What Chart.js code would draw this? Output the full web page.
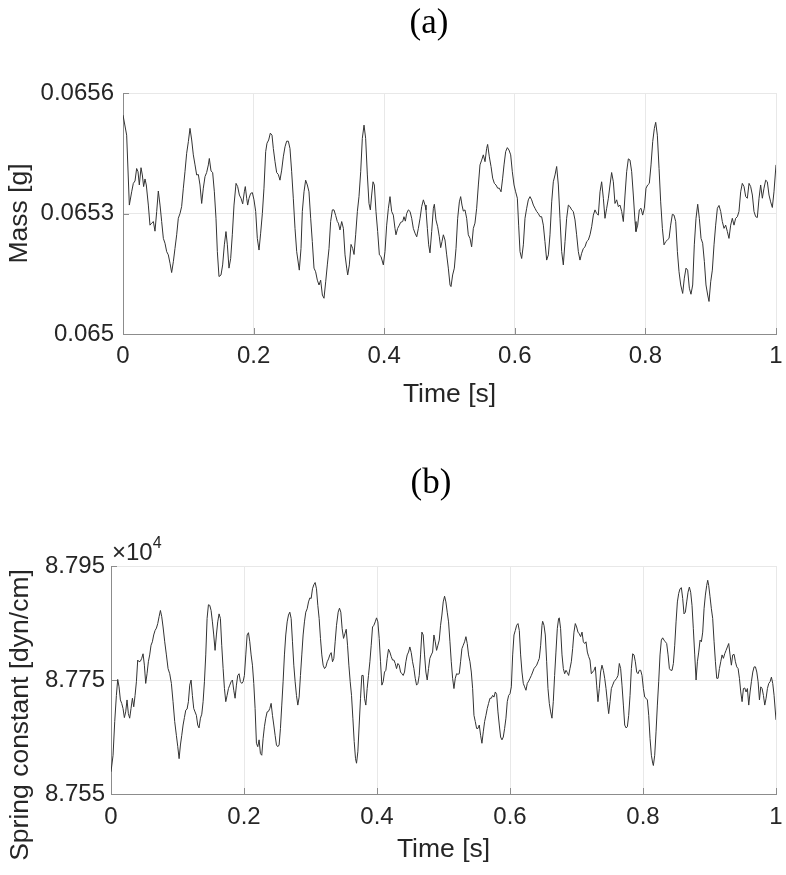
<!DOCTYPE html>
<html>
<head>
<meta charset="utf-8">
<script src="https://cdn.jsdelivr.net/npm/chart.js@4.4.0/dist/chart.umd.min.js"></script>
<style>
  body { margin: 0; background: #fff; }
  #wrap { position: relative; width: 786px; height: 875px; }
  canvas { position: absolute; left: 0; }
</style>
</head>
<body>
<div id="wrap">
  <canvas id="chartA" width="786" height="437" style="top:0"></canvas>
  <canvas id="chartB" width="786" height="438" style="top:437px"></canvas>
</div>
<script>
// (a) mass vs time
const timeA = [
  0, 0.0056, 0.0097, 0.0133, 0.0158, 0.0184, 0.0209, 0.0230, 0.0250, 0.0276,
  0.0296, 0.0316, 0.0337, 0.0357, 0.0388, 0.0413, 0.0439, 0.0465, 0.0490, 0.0516,
  0.0541, 0.0567, 0.0592, 0.0618, 0.0643, 0.0669, 0.0694, 0.0720, 0.0745, 0.0771,
  0.0796, 0.0822, 0.0847, 0.0873, 0.0898, 0.0924, 0.0949, 0.0975, 0.1001, 0.1026,
  0.1052, 0.1077, 0.1103, 0.1128, 0.1154, 0.1179, 0.1205, 0.1230, 0.1256, 0.1281,
  0.1307, 0.1322, 0.1348, 0.1373, 0.1399, 0.1424, 0.1445, 0.1470, 0.1501, 0.1526,
  0.1552, 0.1577, 0.1598, 0.1623, 0.1649, 0.1674, 0.1700, 0.1731, 0.1756, 0.1782,
  0.1807, 0.1833, 0.1858, 0.1873, 0.1894, 0.1909, 0.1930, 0.1955, 0.1981, 0.2006,
  0.2032, 0.2057, 0.2083, 0.2108, 0.2134, 0.2159, 0.2185, 0.2205, 0.2231, 0.2256,
  0.2282, 0.2302, 0.2328, 0.2353, 0.2379, 0.2404, 0.2430, 0.2455, 0.2481, 0.2506,
  0.2532, 0.2557, 0.2583, 0.2608, 0.2634, 0.2660, 0.2700, 0.2726, 0.2746, 0.2772,
  0.2797, 0.2823, 0.2848, 0.2874, 0.2899, 0.2925, 0.2950, 0.2976, 0.3002, 0.3027,
  0.3053, 0.3078, 0.3104, 0.3129, 0.3155, 0.3180, 0.3206, 0.3231, 0.3257, 0.3282,
  0.3298, 0.3323, 0.3349, 0.3375, 0.3400, 0.3426, 0.3441, 0.3466, 0.3492, 0.3517,
  0.3538, 0.3563, 0.3589, 0.3614, 0.3640, 0.3665, 0.3691, 0.3716, 0.3742, 0.3767,
  0.3788, 0.3808, 0.3829, 0.3849, 0.3874, 0.3900, 0.3926, 0.3951, 0.3987, 0.4012,
  0.4038, 0.4064, 0.4089, 0.4114, 0.4140, 0.4165, 0.4180, 0.4206, 0.4232, 0.4252,
  0.4283, 0.4303, 0.4324, 0.4344, 0.4370, 0.4396, 0.4421, 0.4446, 0.4472, 0.4498,
  0.4523, 0.4549, 0.4574, 0.4600, 0.4625, 0.4640, 0.4661, 0.4681, 0.4701, 0.4727,
  0.4753, 0.4768, 0.4793, 0.4819, 0.4844, 0.4865, 0.4885, 0.4906, 0.4931, 0.4957,
  0.4982, 0.5008, 0.5023, 0.5048, 0.5074, 0.5100, 0.5125, 0.5151, 0.5171, 0.5191,
  0.5212, 0.5237, 0.5263, 0.5288, 0.5314, 0.5339, 0.5365, 0.5390, 0.5416, 0.5442,
  0.5467, 0.5493, 0.5518, 0.5544, 0.5569, 0.5584, 0.5610, 0.5636, 0.5661, 0.5687,
  0.5712, 0.5738, 0.5763, 0.5789, 0.5814, 0.5835, 0.5860, 0.5886, 0.5911, 0.5937,
  0.5962, 0.5988, 0.6013, 0.6039, 0.6059, 0.6080, 0.6105, 0.6131, 0.6156, 0.6182,
  0.6207, 0.6233, 0.6258, 0.6284, 0.6309, 0.6335, 0.6360, 0.6386, 0.6411, 0.6437,
  0.6462, 0.6488, 0.6514, 0.6539, 0.6565, 0.6590, 0.6616, 0.6641,
  0.6667, 0.6692, 0.6718, 0.6743, 0.6769, 0.6794, 0.6820, 0.6845, 0.6871, 0.6896,
  0.6922, 0.6947, 0.6973, 0.6998, 0.7024, 0.7050, 0.7075, 0.7101, 0.7126, 0.7152,
  0.7177, 0.7203, 0.7228, 0.7254, 0.7279, 0.7305, 0.7330, 0.7356, 0.7381, 0.7407,
  0.7433, 0.7458, 0.7483, 0.7509, 0.7534, 0.7560, 0.7586, 0.7611, 0.7637, 0.7662,
  0.7688, 0.7713, 0.7739, 0.7764, 0.7790, 0.7815, 0.7841, 0.7856, 0.7882, 0.7907,
  0.7933, 0.7958, 0.7984, 0.8009, 0.8035, 0.8060, 0.8086, 0.8112, 0.8137, 0.8158,
  0.8183, 0.8209, 0.8234, 0.8260, 0.8285, 0.8311, 0.8336, 0.8362, 0.8387, 0.8413,
  0.8438, 0.8464, 0.8490, 0.8515, 0.8541, 0.8571, 0.8596, 0.8622, 0.8647, 0.8673,
  0.8698, 0.8724, 0.8749, 0.8775, 0.8801, 0.8826, 0.8852, 0.8877, 0.8903, 0.8928,
  0.8954, 0.8974, 0.9000, 0.9025, 0.9051, 0.9076, 0.9102, 0.9127, 0.9153, 0.9178,
  0.9204, 0.9229, 0.9255, 0.9280, 0.9306, 0.9331, 0.9357, 0.9382, 0.9408, 0.9433,
  0.9459, 0.9484, 0.9510, 0.9536, 0.9561, 0.9587, 0.9612, 0.9638, 0.9663, 0.9689,
  0.9714, 0.9740, 0.9765, 0.9791, 0.9816, 0.9842, 0.9867, 0.9893, 0.9918, 0.9944,
  0.9969, 1.0
];
const massA = [
  0.065545, 0.065495, 0.065321, 0.065354, 0.065375, 0.065381, 0.065412, 0.065404, 0.065371, 0.065414,
  0.065396, 0.065367, 0.065386, 0.065371, 0.065321, 0.065271, 0.065276, 0.065280, 0.065256, 0.065305,
  0.065356, 0.065321, 0.065280, 0.065238, 0.065226, 0.065205, 0.065197, 0.065176, 0.065153, 0.065180,
  0.065213, 0.065247, 0.065288, 0.065300, 0.065317, 0.065363, 0.065404, 0.065450, 0.065479, 0.065512,
  0.065483, 0.065446, 0.065421, 0.065396, 0.065397, 0.065371, 0.065325, 0.065363, 0.065392, 0.065402,
  0.065421, 0.065437, 0.065406, 0.065402, 0.065354, 0.065288, 0.065205, 0.065143, 0.065147, 0.065172,
  0.065222, 0.065255, 0.065222, 0.065164, 0.065188, 0.065247, 0.065321, 0.065375, 0.065367, 0.065346,
  0.065338, 0.065324, 0.065354, 0.065367, 0.065338, 0.065321, 0.065338, 0.065350, 0.065352, 0.065334,
  0.065305, 0.065238, 0.065209, 0.065251, 0.065300, 0.065363, 0.065454, 0.065475, 0.065483, 0.065500,
  0.065495, 0.065462, 0.065429, 0.065402, 0.065397, 0.065383, 0.065408, 0.065441, 0.065466, 0.065480,
  0.065480, 0.065462, 0.065404, 0.065338, 0.065263, 0.065205, 0.065159, 0.065213, 0.065305, 0.065354,
  0.065383, 0.065371, 0.065354, 0.065288, 0.065230, 0.065164, 0.065155, 0.065134, 0.065122, 0.065134,
  0.065097, 0.065089, 0.065130, 0.065172, 0.065213, 0.065280, 0.065309, 0.065309, 0.065295, 0.065280,
  0.065276, 0.065259, 0.065280, 0.065263, 0.065197, 0.065164, 0.065147, 0.065172, 0.065223, 0.065213,
  0.065198, 0.065247, 0.065305, 0.065342, 0.065404, 0.065487, 0.065520, 0.065487, 0.065396, 0.065325,
  0.065309, 0.065346, 0.065379, 0.065371, 0.065305, 0.065255, 0.065197, 0.065193, 0.065172, 0.065205,
  0.065271, 0.065313, 0.065342, 0.065305, 0.065296, 0.065263, 0.065247, 0.065263, 0.065271, 0.065278,
  0.065280, 0.065292, 0.065281, 0.065300, 0.065309, 0.065305, 0.065288, 0.065263, 0.065251, 0.065242,
  0.065263, 0.065288, 0.065317, 0.065334, 0.065321, 0.065309, 0.065263, 0.065222, 0.065202, 0.065255,
  0.065313, 0.065323, 0.065284, 0.065267, 0.065242, 0.065215, 0.065230, 0.065247, 0.065234, 0.065197,
  0.065164, 0.065122, 0.065118, 0.065147, 0.065164, 0.065213, 0.065288, 0.065329, 0.065342, 0.065321,
  0.065306, 0.065309, 0.065288, 0.065247, 0.065238, 0.065217, 0.065263, 0.065276, 0.065313, 0.065371,
  0.065421, 0.065433, 0.065446, 0.065429, 0.065462, 0.065472, 0.065441, 0.065417, 0.065388, 0.065375,
  0.065371, 0.065363, 0.065363, 0.065354, 0.065388, 0.065421, 0.065454, 0.065464, 0.065458, 0.065446,
  0.065404, 0.065371, 0.065354, 0.065338, 0.065271, 0.065205, 0.065188, 0.065222, 0.065288, 0.065313,
  0.065334, 0.065342, 0.065334, 0.065321, 0.065313, 0.065305, 0.065300, 0.065292, 0.065292, 0.065271,
  0.065230, 0.065184, 0.065197, 0.065247, 0.065329, 0.065379, 0.065396, 0.065417,
  0.065371, 0.065288, 0.065205, 0.065172, 0.065230, 0.065288, 0.065321, 0.065317, 0.065309, 0.065305,
  0.065284, 0.065247, 0.065205, 0.065184, 0.065201, 0.065213, 0.065217, 0.065230, 0.065234, 0.065247,
  0.065267, 0.065296, 0.065309, 0.065300, 0.065296, 0.065354, 0.065379, 0.065338, 0.065288, 0.065313,
  0.065338, 0.065371, 0.065402, 0.065379, 0.065325, 0.065334, 0.065317, 0.065321, 0.065305, 0.065280,
  0.065346, 0.065404, 0.065436, 0.065433, 0.065404, 0.065346, 0.065280, 0.065255, 0.065271, 0.065309,
  0.065313, 0.065296, 0.065313, 0.065363, 0.065371, 0.065375, 0.065421, 0.065479, 0.065512, 0.065527,
  0.065495, 0.065412, 0.065329, 0.065263, 0.065222, 0.065230, 0.065234, 0.065238, 0.065271, 0.065298,
  0.065296, 0.065280, 0.065205, 0.065155, 0.065122, 0.065101, 0.065139, 0.065164, 0.065159, 0.065114,
  0.065099, 0.065122, 0.065222, 0.065288, 0.065323, 0.065288, 0.065238, 0.065226, 0.065180, 0.065122,
  0.065097, 0.065081, 0.065130, 0.065159, 0.065222, 0.065271, 0.065313, 0.065320, 0.065305, 0.065280,
  0.065263, 0.065271, 0.065255, 0.065238, 0.065271, 0.065288, 0.065271, 0.065288, 0.065292, 0.065305,
  0.065354, 0.065375, 0.065367, 0.065342, 0.065338, 0.065375, 0.065367, 0.065346, 0.065305, 0.065292,
  0.065290, 0.065338, 0.065371, 0.065338, 0.065363, 0.065383, 0.065379, 0.065346, 0.065329, 0.065315,
  0.065354, 0.065421
];

// (b) spring constant vs time, dyn/cm
const timeB = [
  0, 0.0031, 0.0056, 0.0081, 0.0101, 0.0121, 0.0141, 0.0161, 0.0181, 0.0201,
  0.0221, 0.0241, 0.0261, 0.0281, 0.0301, 0.0322, 0.0342, 0.0362, 0.0382, 0.0402,
  0.0422, 0.0442, 0.0462, 0.0482, 0.0502, 0.0522, 0.0542, 0.0562, 0.0582, 0.0602,
  0.0622, 0.0642, 0.0663, 0.0683, 0.0703, 0.0723, 0.0743, 0.0763, 0.0783, 0.0808,
  0.0833, 0.0858, 0.0883, 0.0908, 0.0933, 0.0958, 0.0983, 0.1004, 0.1024, 0.1044,
  0.1064, 0.1084, 0.1104, 0.1124, 0.1144, 0.1164, 0.1184, 0.1204, 0.1224, 0.1244,
  0.1264, 0.1284, 0.1304, 0.1324, 0.1345, 0.1365, 0.1385, 0.1405, 0.1425, 0.1445,
  0.1465, 0.1485, 0.1505, 0.1525, 0.1545, 0.1565, 0.1585, 0.1605, 0.1625, 0.1645,
  0.1665, 0.1686, 0.1706, 0.1726, 0.1746, 0.1766, 0.1786, 0.1806, 0.1826, 0.1846,
  0.1866, 0.1886, 0.1906, 0.1926, 0.1946, 0.1966, 0.1986, 0.2006, 0.2027, 0.2047,
  0.2067, 0.2087, 0.2107, 0.2127, 0.2147, 0.2167, 0.2187, 0.2207, 0.2227, 0.2247,
  0.2267, 0.2287, 0.2307, 0.2327, 0.2348, 0.2368, 0.2388, 0.2408, 0.2428, 0.2448,
  0.2468, 0.2488, 0.2508, 0.2528, 0.2548, 0.2568, 0.2588, 0.2608, 0.2628, 0.2649,
  0.2669, 0.2689, 0.2709, 0.2729, 0.2749, 0.2769, 0.2789, 0.2809, 0.2829, 0.2849,
  0.2869, 0.2889, 0.2909, 0.2929, 0.2950, 0.2970, 0.2990, 0.3010, 0.3030, 0.3050,
  0.3070, 0.3090, 0.3110, 0.3130, 0.3150, 0.3170, 0.3190, 0.3211, 0.3231, 0.3251,
  0.3271,
  0.3291, 0.3311, 0.3331, 0.3351, 0.3371, 0.3391, 0.3416, 0.3436, 0.3456, 0.3476,
  0.3497, 0.3517, 0.3537, 0.3557, 0.3577, 0.3597, 0.3617, 0.3637, 0.3657, 0.3677,
  0.3692, 0.3712, 0.3732, 0.3752, 0.3772, 0.3792, 0.3812, 0.3832, 0.3852, 0.3872,
  0.3893, 0.3913, 0.3933, 0.3953, 0.3973, 0.3993, 0.4013, 0.4033, 0.4053, 0.4073,
  0.4093, 0.4113, 0.4133, 0.4153, 0.4173, 0.4193, 0.4214, 0.4234, 0.4254, 0.4274,
  0.4294, 0.4314, 0.4334, 0.4354, 0.4374, 0.4394, 0.4414, 0.4434, 0.4454, 0.4474,
  0.4494, 0.4515, 0.4535, 0.4555, 0.4575, 0.4595, 0.4615, 0.4635, 0.4655, 0.4675,
  0.4695, 0.4715, 0.4735, 0.4755, 0.4775, 0.4795, 0.4816, 0.4836, 0.4856, 0.4876,
  0.4896, 0.4916, 0.4936, 0.4956, 0.4976, 0.4996, 0.5016, 0.5036, 0.5056, 0.5076,
  0.5097, 0.5117, 0.5137, 0.5157, 0.5177, 0.5197, 0.5217, 0.5237, 0.5257, 0.5277,
  0.5297, 0.5317, 0.5337, 0.5357, 0.5377, 0.5398, 0.5418, 0.5438, 0.5458, 0.5478,
  0.5498, 0.5518, 0.5538, 0.5558, 0.5578, 0.5598, 0.5618, 0.5638, 0.5658, 0.5678,
  0.5699, 0.5719, 0.5739, 0.5759, 0.5779, 0.5799, 0.5819, 0.5839, 0.5859, 0.5879,
  0.5899, 0.5919, 0.5939, 0.5959, 0.5980, 0.6000, 0.6020, 0.6040, 0.6060, 0.6080,
  0.6100, 0.6120, 0.6140, 0.6160, 0.6180, 0.6200, 0.6220, 0.6240, 0.6260, 0.6281,
  0.6301, 0.6321, 0.6341, 0.6361, 0.6381, 0.6401, 0.6421, 0.6441, 0.6461, 0.6481,
  0.6491, 0.6511, 0.6531, 0.6551, 0.6571, 0.6591,
  0.6611, 0.6631, 0.6651, 0.6671, 0.6691, 0.6711, 0.6731, 0.6741, 0.6761, 0.6782,
  0.6802, 0.6822, 0.6842, 0.6862, 0.6882, 0.6902, 0.6922, 0.6942, 0.6962, 0.6982,
  0.7002, 0.7022, 0.7042, 0.7062, 0.7083, 0.7103, 0.7123, 0.7143, 0.7163, 0.7183,
  0.7203, 0.7223, 0.7243, 0.7263, 0.7283, 0.7303, 0.7323, 0.7343, 0.7363, 0.7383,
  0.7404, 0.7424, 0.7444, 0.7464, 0.7484, 0.7504, 0.7524, 0.7544, 0.7564, 0.7584,
  0.7604, 0.7624, 0.7644, 0.7664, 0.7684, 0.7705, 0.7725, 0.7745, 0.7765, 0.7785,
  0.7805, 0.7825, 0.7845, 0.7865, 0.7885, 0.7905, 0.7925, 0.7945, 0.7965, 0.7985,
  0.8006, 0.8026, 0.8046, 0.8066, 0.8086, 0.8106, 0.8126, 0.8146, 0.8156, 0.8176,
  0.8196, 0.8216, 0.8236, 0.8256, 0.8276, 0.8296, 0.8316, 0.8336, 0.8356, 0.8377,
  0.8397, 0.8417, 0.8437, 0.8457, 0.8477, 0.8497, 0.8517, 0.8537, 0.8557, 0.8577,
  0.8597, 0.8617, 0.8637, 0.8657, 0.8677, 0.8697, 0.8717, 0.8737, 0.8757, 0.8778,
  0.8798, 0.8818, 0.8838, 0.8858, 0.8878, 0.8898, 0.8918, 0.8938, 0.8958, 0.8973,
  0.8988, 0.9008, 0.9028, 0.9048, 0.9069, 0.9089, 0.9109, 0.9129, 0.9149, 0.9169,
  0.9189, 0.9209, 0.9229, 0.9249, 0.9269, 0.9289, 0.9309, 0.9329, 0.9349, 0.9370,
  0.9390, 0.9410, 0.9430, 0.9450, 0.9470, 0.9490, 0.9510, 0.9530, 0.9550, 0.9570,
  0.9590, 0.9610, 0.9630, 0.9651, 0.9671, 0.9691, 0.9711, 0.9731, 0.9751, 0.9771,
  0.9791, 0.9811, 0.9831, 0.9851, 0.9871, 0.9891, 0.9911, 0.9931, 0.9951, 0.9971,
  1.0
];
const springB = [
  87589, 87618, 87677, 87723, 87751, 87738, 87715, 87709, 87700, 87684,
  87694, 87715, 87691, 87683, 87700, 87718, 87703, 87723, 87747, 87785,
  87782, 87783, 87788, 87796, 87776, 87744, 87761, 87782, 87794, 87811,
  87817, 87829, 87837, 87841, 87849, 87861, 87872, 87861, 87843, 87817,
  87794, 87770, 87761, 87744, 87712, 87677, 87653, 87633, 87612, 87636,
  87653, 87671, 87684, 87697, 87699, 87712, 87741, 87750, 87723, 87700,
  87694, 87688, 87671, 87666, 87683, 87690, 87712, 87747, 87794, 87858,
  87882, 87881, 87872, 87852, 87829, 87802, 87829, 87852, 87866, 87858,
  87811, 87770, 87735, 87712, 87723, 87735, 87741, 87747, 87750, 87732,
  87718, 87741, 87758, 87761, 87747, 87744, 87747, 87758, 87794, 87829,
  87833, 87817, 87794, 87776, 87744, 87700, 87639, 87633, 87645, 87621,
  87618, 87647, 87668, 87683, 87694, 87695, 87700, 87709, 87688, 87671,
  87653, 87636, 87633, 87636, 87665, 87706, 87747, 87794, 87829, 87852,
  87864, 87869, 87858, 87817, 87776, 87747, 87723, 87706, 87720, 87758,
  87794, 87829, 87852, 87869, 87875, 87887, 87894, 87893, 87910, 87917,
  87921, 87910, 87881, 87858, 87823, 87794, 87776, 87770, 87773, 87782,
  87787,
  87794, 87798, 87782, 87788, 87817, 87846, 87869, 87876, 87869, 87840,
  87823, 87831, 87839, 87811, 87776, 87747, 87723, 87683, 87642, 87612,
  87604, 87624, 87671, 87718, 87758, 87758, 87718, 87706, 87735, 87758,
  87782, 87811, 87843, 87846, 87852, 87859, 87852, 87823, 87782, 87741,
  87747, 87764, 87767, 87788, 87804, 87799, 87791, 87785, 87785, 87779,
  87770, 87779, 87776, 87764, 87761, 87758, 87764, 87782, 87794, 87799,
  87808, 87798, 87782, 87770, 87753, 87741, 87744, 87758, 87794, 87834,
  87829, 87794, 87764, 87750, 87770, 87788, 87794, 87799, 87829, 87817,
  87802, 87811, 87820, 87846, 87864, 87887, 87897, 87887, 87869, 87852,
  87817, 87782, 87753, 87735, 87753, 87761, 87760, 87761, 87782, 87805,
  87811, 87817, 87826, 87814, 87794, 87782, 87764, 87735, 87688, 87677,
  87665, 87665, 87671, 87653, 87639, 87659, 87677, 87688, 87700, 87709,
  87718, 87718, 87723, 87720, 87729, 87725, 87694, 87671, 87650, 87645,
  87650, 87665, 87683, 87712, 87723, 87726, 87738, 87794, 87829, 87837,
  87846, 87849, 87837, 87794, 87764, 87744, 87738, 87732, 87744, 87748,
  87753, 87758, 87764, 87770, 87773, 87776, 87782, 87788, 87811, 87846,
  87853, 87846, 87829, 87782, 87735, 87709,
  87694, 87683, 87712, 87758, 87799, 87840, 87858, 87859, 87840, 87794,
  87770, 87761, 87767, 87763, 87758, 87770, 87782, 87805, 87834, 87849,
  87843, 87834, 87831, 87826, 87834, 87817, 87814, 87817, 87799, 87791,
  87785, 87761, 87764, 87767, 87773, 87741, 87712, 87735, 87764, 87776,
  87767, 87753, 87735, 87712, 87691, 87712, 87735, 87741, 87747, 87750,
  87753, 87758, 87779, 87770, 87741, 87706, 87671, 87666, 87668, 87688,
  87723, 87770, 87796, 87794, 87782, 87764, 87761, 87767, 87767, 87758,
  87735, 87720, 87718, 87715, 87688, 87647, 87618, 87604, 87600, 87618,
  87659, 87706, 87747, 87794, 87820, 87824, 87820, 87817, 87814, 87794,
  87770, 87767, 87767, 87779, 87811, 87852, 87887, 87902, 87910, 87912,
  87893, 87866, 87869, 87887, 87904, 87913, 87904, 87881, 87840, 87794,
  87750, 87782, 87799, 87820, 87817, 87834, 87875, 87899, 87916, 87925,
  87916, 87896, 87875, 87858, 87817, 87782, 87753, 87753, 87770, 87782,
  87794, 87788, 87796, 87802, 87808, 87814, 87794, 87776, 87794, 87795,
  87782, 87773, 87770, 87753, 87729, 87712, 87735, 87736, 87729, 87735,
  87706, 87729, 87747, 87764, 87773, 87773, 87764, 87747, 87715, 87738,
  87735, 87723, 87706, 87718, 87735, 87744, 87747, 87755, 87744, 87723,
  87680
];

const timeTicks = [0, 0.2, 0.4, 0.6, 0.8, 1];
const massTicks = [0.065, 0.0653, 0.0656];
const springTicks = [87550, 87750, 87950];

const sans = "'Liberation Sans', Arial, Helvetica, sans-serif";
const tickFont = { family: sans, size: 24 };
const labelFont = { family: sans, size: 26.5 };
const textGray = '#262626';
const axisGray = '#8c8c8c';
const gridGray = '#e8e8e8';

// panel letter, inner tick marks, exponent and free-placed y label
const panelDecor = {
  id: 'panelDecor',
  afterDraw(chart, args, o) {
    const { ctx, chartArea: a, scales } = chart;
    ctx.save();
    ctx.strokeStyle = axisGray;
    ctx.lineWidth = 1;
    ctx.beginPath();
    scales.x.ticks.forEach(t => {
      const px = Math.round(scales.x.getPixelForValue(t.value)) + 0.5;
      ctx.moveTo(px, a.bottom);
      ctx.lineTo(px, a.bottom - 6);
    });
    scales.y.ticks.forEach(t => {
      const py = Math.round(scales.y.getPixelForValue(t.value)) + 0.5;
      ctx.moveTo(a.left, py);
      ctx.lineTo(a.left + 6, py);
    });
    ctx.stroke();

    ctx.fillStyle = '#000';
    ctx.font = "35px 'Liberation Serif', 'Times New Roman', serif";
    ctx.textAlign = 'center';
    ctx.textBaseline = 'alphabetic';
    ctx.fillText(o.label, o.labelX, o.labelY);

    if (o.exponent) {
      ctx.fillStyle = textGray;
      ctx.textAlign = 'left';
      ctx.font = "24px " + sans;
      ctx.fillText('\u00d710', a.left + 1, a.top - 6);
      const w = ctx.measureText('\u00d710').width;
      ctx.font = "16px " + sans;
      ctx.fillText(o.exponent, a.left + 1 + w, a.top - 18);
    }
    if (o.yTitle) {
      ctx.translate(o.yTitleX, o.yTitleY);
      ctx.rotate(-Math.PI / 2);
      ctx.fillStyle = textGray;
      ctx.textAlign = 'center';
      ctx.textBaseline = 'middle';
      ctx.font = "26.5px " + sans;
      ctx.fillText(o.yTitle, 0, 0);
    }
    ctx.restore();
  }
};

function makeChart(id, xs, ys, yTicks, cfg) {
  return new Chart(document.getElementById(id), {
    type: 'line',
    data: {
      datasets: [{
        data: xs.map((t, i) => ({ x: t, y: ys[i] })),
        borderColor: '#333333',
        borderWidth: 1,
        pointRadius: 0,
        tension: 0,
        fill: false
      }]
    },
    options: {
      responsive: false,
      animation: false,
      events: [],
      layout: { padding: { top: cfg.top, right: 10, left: 0, bottom: 0 } },
      plugins: {
        legend: { display: false },
        tooltip: { enabled: false },
        panelDecor: cfg.decor
      },
      scales: {
        x: {
          type: 'linear',
          min: 0,
          max: 1,
          afterBuildTicks: s => { s.ticks = timeTicks.map(v => ({ value: v })); },
          afterFit: s => { s.height = cfg.xHeight; s.paddingLeft = 0; s.paddingRight = 0; },
          ticks: {
            font: tickFont, color: textGray, padding: cfg.xTickPad, maxRotation: 0,
            callback: v => String(+v.toFixed(1))
          },
          grid: { color: gridGray, drawTicks: false },
          border: { color: axisGray },
          title: {
            display: true, text: 'Time [s]', font: labelFont, color: textGray,
            padding: { top: 0, bottom: cfg.xTitlePad }
          }
        },
        y: {
          type: 'linear',
          min: yTicks[0],
          max: yTicks[yTicks.length - 1],
          afterBuildTicks: s => { s.ticks = yTicks.map(v => ({ value: v })); },
          afterFit: s => { s.width = cfg.yWidth; },
          ticks: { font: tickFont, color: textGray, padding: cfg.yTickPad, callback: cfg.yFormat },
          grid: { color: gridGray, drawTicks: false },
          border: { color: axisGray },
          title: {
            display: !!cfg.yTitle, text: cfg.yTitle || '', font: labelFont, color: textGray,
            padding: { top: 4, bottom: 0 }
          }
        }
      }
    },
    plugins: [panelDecor]
  });
}

makeChart('chartA', timeA, massA, massTicks, {
  top: 93, xHeight: 103, yWidth: 123, xTickPad: 8, yTickPad: 9, xTitlePad: 26,
  yTitle: 'Mass [g]',
  yFormat: v => String(+v.toFixed(4)),
  decor: { label: '(a)', labelX: 429, labelY: 33 }
});

makeChart('chartB', timeB, springB, springTicks, {
  top: 129, xHeight: 81, yWidth: 111, xTickPad: 9, yTickPad: 6, xTitlePad: 9,
  yTitle: null,
  yFormat: v => (v / 1e4).toFixed(3),
  decor: {
    label: '(b)', labelX: 431, labelY: 56, exponent: '4',
    yTitle: 'Spring constant [dyn/cm]', yTitleX: 21, yTitleY: 278
  }
});
</script>
</body>
</html>
